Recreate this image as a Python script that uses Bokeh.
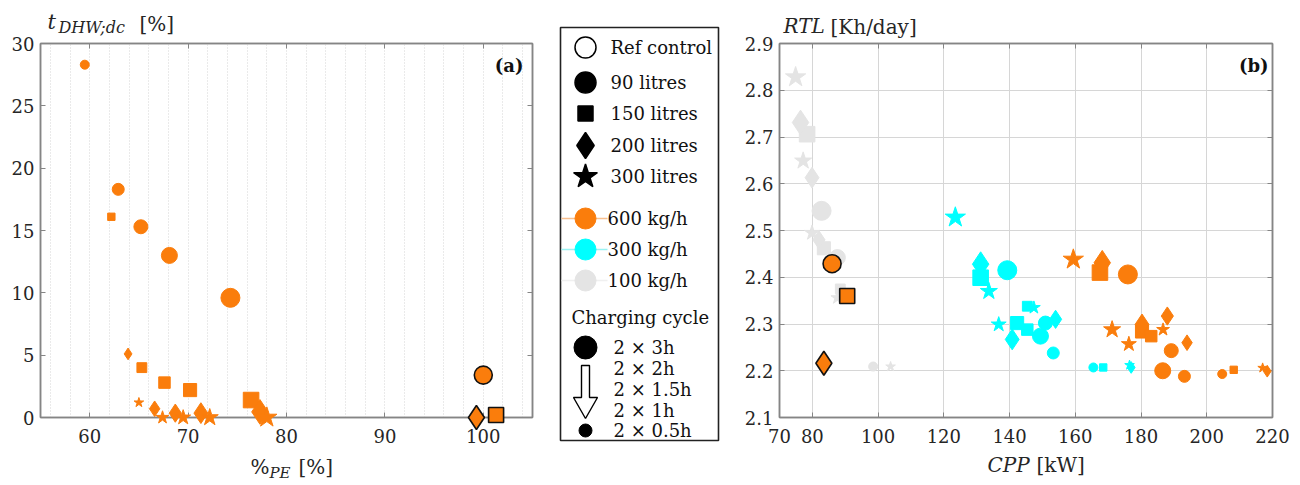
from bokeh.plotting import figure
from bokeh.layouts import row
from bokeh.models import (Range1d, FixedTicker, LinearAxis, Label, PrintfTickFormatter,
                          CustomJSTickFormatter, ColumnDataSource)
from bokeh.core.properties import value
from bokeh.embed import file_html
from bokeh.resources import INLINE

# ---------------- data: panel (a) ----------------
A600_PE = [59.5, 62.9, 65.2, 68.1, 74.3,
           62.2, 65.3, 67.6, 70.2, 76.4,
           63.9, 66.6, 68.7, 71.3, 77.3,
           65.0, 67.4, 69.5, 72.2, 78.0]
A600_TDHW = [28.3, 18.3, 15.3, 13.0, 9.6,
             16.1, 4.0, 2.8, 2.2, 1.4,
             5.1, 0.7, 0.35, 0.35, 0.45,
             1.2, 0.0, 0.0, 0.0, 0.0]
A600_VOL = [90, 90, 90, 90, 90, 150, 150, 150, 150, 150,
            200, 200, 200, 200, 200, 300, 300, 300, 300, 300]
A600_CYC = [0.5, 1, 1.5, 2, 3, 0.5, 1, 1.5, 2, 3,
            0.5, 1, 1.5, 2, 3, 0.5, 1, 1.5, 2, 3]
AREF_PE = [100.0, 99.3, 101.3]
AREF_TDHW = [3.4, 0.0, 0.2]
AREF_VOL = [90, 200, 150]

# ---------------- data: panel (b) ----------------
B600_CPP = [176.0, 186.6, 189.2, 193.2, 204.7,
            167.5, 180.3, 183.1, 208.2,
            168.2, 180.3, 188.0, 194.0, 218.4,
            159.4, 171.2, 176.3, 186.7, 217.0]
B600_RTL = [2.406, 2.200, 2.243, 2.188, 2.193,
            2.410, 2.284, 2.274, 2.202,
            2.431, 2.299, 2.317, 2.260, 2.199,
            2.438, 2.288, 2.257, 2.288, 2.206]
B600_VOL = [90, 90, 90, 90, 90, 150, 150, 150, 150,
            200, 200, 200, 200, 200, 300, 300, 300, 300, 300]
B600_CYC = [3, 2, 1.5, 1, 0.5, 3, 2, 1.5, 0.5,
            3, 2, 1.5, 1, 0.5, 3, 2, 1.5, 1, 0.5]

B300_CPP = [139.3, 149.4, 150.9, 153.3, 165.5,
            131.2, 142.3, 145.4, 145.4, 168.5,
            131.2, 140.8, 154.0, 177.0,
            123.5, 133.7, 136.7, 147.4, 176.5]
B300_RTL = [2.415, 2.274, 2.302, 2.238, 2.207,
            2.399, 2.302, 2.288, 2.338, 2.207,
            2.428, 2.267, 2.310, 2.207,
            2.528, 2.370, 2.299, 2.335, 2.212]
B300_VOL = [90, 90, 90, 90, 90, 150, 150, 150, 150, 150,
            200, 200, 200, 200, 300, 300, 300, 300, 300]
B300_CYC = [3, 2, 1.5, 1, 0.5, 3, 2, 1.5, 1, 0.5,
            3, 2, 1.5, 0.5, 3, 2, 1.5, 1, 0.5]

B100_CPP = [82.8, 87.6, 98.5, 78.4, 83.5, 88.5, 76.4, 79.9, 82.0,
            74.9, 77.2, 79.9, 87.6, 103.8]
B100_RTL = [2.542, 2.442, 2.209, 2.706, 2.462, 2.375, 2.731, 2.613, 2.480,
            2.828, 2.649, 2.495, 2.356, 2.209]
B100_VOL = [90, 90, 90, 150, 150, 150, 200, 200, 200, 300, 300, 300, 300, 300]
B100_CYC = [3, 2, 0.5, 3, 2, 1, 3, 2, 1.5, 3, 2, 1.5, 1, 0.5]

BREF_CPP = [86.0, 90.6, 83.5]
BREF_RTL = [2.429, 2.360, 2.216]
BREF_VOL = [90, 150, 200]

A_XTICKS = [60, 70, 80, 90, 100]
A_YTICKS = [0, 5, 10, 15, 20, 25, 30]
B_XTICKS = [70, 80, 100, 120, 140, 160, 180, 200, 220]
B_YTICKS = [2.1, 2.2, 2.3, 2.4, 2.5, 2.6, 2.7, 2.8, 2.9]

LEG_SHAPES = ["Ref control", "90 litres", "150 litres", "200 litres", "300 litres"]
LEG_FLOWS = ["600 kg/h", "300 kg/h", "100 kg/h"]
LEG_CYCLES = ["2 \u00d7 3h", "2 \u00d7 2h", "2 \u00d7 1.5h", "2 \u00d7 1h", "2 \u00d7 0.5h"]

# ---------------- styles ----------------
FONT = "DejaVu Serif"
TXT = "#262626"
AXC = "#858585"
ORANGE = "#FA7D0C"
CYAN = "#00FFFF"
GRAY = "#E4E4E4"
ORANGE_L = "#F9C08E"
CYAN_L = "#9AF3F3"
GRAY_L = "#F0F0F0"

MARKER = {90: "circle", 150: "square", 200: "diamond", 300: "star"}
SHAPE_SCALE = {90: 1.0, 150: 0.82, 200: 1.3, 300: 1.12}
CYCLE_SIZE = {3: 19, 2: 16, 1.5: 14, 1: 12, 0.5: 9}

H = 485
FT, FB = 43, 417          # frame top / bottom in page pixels (row aligns all frames)


def make_fig(width, xr, yr, bl, br, xt, yt, yfmt=None):
    p = figure(width=width, height=H, x_range=Range1d(*xr), y_range=Range1d(*yr),
               output_backend="svg", toolbar_location=None,
               min_border_left=bl, min_border_right=br,
               min_border_top=FT, min_border_bottom=H - FB)
    p.outline_line_color = AXC
    p.outline_line_width = 1.5
    p.xaxis.ticker = FixedTicker(ticks=xt)
    p.yaxis.ticker = FixedTicker(ticks=yt)
    if yfmt is not None:
        p.yaxis.formatter = yfmt
    for ax in p.axis:
        ax.axis_line_color = AXC
        ax.axis_line_width = 1.5
        ax.major_tick_line_color = AXC
        ax.major_tick_in = 5
        ax.major_tick_out = 0
        ax.minor_tick_line_color = None
        ax.major_label_text_font = FONT
        ax.major_label_text_font_size = "18px"
        ax.major_label_text_color = TXT
    p.xaxis.major_label_standoff = 11
    p.yaxis.major_label_standoff = 6
    blank = CustomJSTickFormatter(code="return ''")
    for loc, tk in (("right", yt), ("above", xt)):
        ax = LinearAxis(ticker=FixedTicker(ticks=tk), formatter=blank,
                        axis_line_color=AXC, axis_line_width=1.5,
                        major_tick_line_color=AXC, major_tick_in=5, major_tick_out=0,
                        minor_tick_line_color=None, major_label_standoff=0)
        p.add_layout(ax, loc)
    return p


def title_text(p, geo, px, py, text, size, style="normal"):
    """Unclipped axis-title text; px/py = left edge / vertical middle in page pixels."""
    (x0, x1), (y0, y1), fl, fr = geo
    x = x0 + (px - fl) / (fr - fl) * (x1 - x0)
    y = y0 + (FB - py) / (FB - FT) * (y1 - y0)
    p.text(x=[x], y=[y], text=[text], text_font=value(FONT), text_font_size=f"{size}px",
           text_font_style=style, text_color=TXT, text_align="left",
           text_baseline="middle", level="overlay")


def add_series(p, xs, ys, vols, cycs, color, edge=None, ref=False):
    if ref:
        sizes = [{90: 18, 150: 15, 200: 24}[v] for v in vols]
        order = list(range(len(xs)))
    else:
        sizes = [CYCLE_SIZE[c] * SHAPE_SCALE[v] for v, c in zip(vols, cycs)]
        order = sorted(range(len(xs)), key=lambda i: -CYCLE_SIZE[cycs[i]])
    src = ColumnDataSource(dict(x=[xs[i] for i in order], y=[ys[i] for i in order],
                                m=[MARKER[vols[i]] for i in order], s=[sizes[i] for i in order]))
    p.scatter(x="x", y="y", marker="m", size="s", source=src, fill_color=color,
              line_color=edge if edge else color, line_width=1.6 if edge else 1,
              level="overlay")


# ---------------- panel (a) ----------------
AW = 548
AXR, AYR = (55, 105), (0, 30)
AFL, AFR = 40, 532
pa = make_fig(AW, AXR, AYR, AFL, AW - AFR, A_XTICKS, A_YTICKS)
pa.ygrid.visible = False
pa.xgrid.ticker = FixedTicker(ticks=list(range(56, 105, 2)))
pa.xgrid.grid_line_color = "#D4D4D4"
pa.xgrid.grid_line_dash = "1 2"
pa.xgrid.grid_line_width = 1
add_series(pa, A600_PE, A600_TDHW, A600_VOL, A600_CYC, ORANGE)
add_series(pa, AREF_PE, AREF_TDHW, AREF_VOL, None, ORANGE, edge="#111111", ref=True)
pa.add_layout(Label(x=AFR - 9 - AFL, y=FB - 65, x_units="screen", y_units="screen",
                    text="(a)", text_font=FONT, text_font_size="18px", text_font_style="bold",
                    text_color="#111111", text_align="right", text_baseline="middle"))
ga = (AXR, AYR, AFL, AFR)
title_text(pa, ga, 47, 21, "t", 21, "italic")
title_text(pa, ga, 58, 27, "DHW;dc", 16, "italic")
title_text(pa, ga, 139, 23, "[%]", 20)
title_text(pa, ga, 250, 466, "%", 20)
title_text(pa, ga, 269, 472, "PE", 15, "italic")
title_text(pa, ga, 298, 466, "[%]", 20)

# ---------------- legend (data units = page pixels inside the aligned frame) ----------------
LX0, LX1 = 548, 740
pl = figure(width=LX1 - LX0, height=H, x_range=Range1d(LX0, LX1), y_range=Range1d(FB, FT),
            output_backend="svg", toolbar_location=None, min_border_left=0,
            min_border_right=0, min_border_top=FT, min_border_bottom=H - FB,
            x_axis_location=None, y_axis_location=None)
pl.grid.visible = False
pl.outline_line_color = None


def ltext(px, py, text):
    pl.text(x=[px], y=[py], text=[text], text_font=value(FONT), text_font_size="18px",
            text_color="#111111", text_align="left", text_baseline="middle", level="overlay")


pl.quad(left=[560], right=[718], top=[27], bottom=[440], fill_color="white",
        line_color="#222222", line_width=1.6, level="overlay")
MX = 585
shape_y = [47, 82, 113, 145, 176]
shape_m = ["circle", "circle", "square", "diamond", "star"]
shape_s = [21, 21, 15, 26, 25]
for i, lab in enumerate(LEG_SHAPES):
    pl.scatter([MX], [shape_y[i]], marker=shape_m[i], size=shape_s[i],
               fill_color="white" if i == 0 else "black", line_color="black", line_width=1.5,
               level="overlay")
    ltext(610, shape_y[i], lab)
flow_y = [218, 249, 280]
for lab, c, cl, yy in zip(LEG_FLOWS, [ORANGE, CYAN, GRAY], [ORANGE_L, CYAN_L, GRAY_L], flow_y):
    pl.line([561, 607], [yy, yy], line_color=cl, line_width=1.5, level="overlay")
    pl.scatter([MX], [yy], marker="circle", size=21, fill_color=c, line_color=c, level="overlay")
    ltext(607, yy, lab)
ltext(571, 317, "Charging cycle")
cyc_y = [347, 368, 389, 410, 430]
for lab, yy in zip(LEG_CYCLES, cyc_y):
    ltext(613, yy, lab)
pl.scatter([MX], [cyc_y[0]], marker="circle", size=23, fill_color="black", line_color="black",
           level="overlay")
pl.scatter([MX], [cyc_y[-1]], marker="circle", size=13, fill_color="black", line_color="black",
           level="overlay")
pl.patch([581, 589, 589, 597, 585, 573, 581, 581], [365, 365, 397, 397, 418, 397, 397, 365],
         fill_color="white", line_color="black", line_width=1.4, level="overlay")

# ---------------- panel (b) ----------------
BW = 1300 - LX1
BXR, BYR = (70, 220), (2.1, 2.9)
BFL, BFR = 779, 1272
pb = make_fig(BW, BXR, BYR, BFL - LX1, LX1 + BW - BFR, B_XTICKS, B_YTICKS,
              yfmt=PrintfTickFormatter(format="%.1f"))
for g in (pb.xgrid, pb.ygrid):
    g.grid_line_color = "#D6D6D6"
    g.grid_line_width = 1
pb.ygrid.ticker = FixedTicker(ticks=B_YTICKS)
pb.xgrid.ticker = FixedTicker(ticks=B_XTICKS)
add_series(pb, B100_CPP, B100_RTL, B100_VOL, B100_CYC, GRAY)
add_series(pb, B300_CPP, B300_RTL, B300_VOL, B300_CYC, CYAN)
add_series(pb, B600_CPP, B600_RTL, B600_VOL, B600_CYC, ORANGE)
add_series(pb, BREF_CPP, BREF_RTL, BREF_VOL, None, ORANGE, edge="#111111", ref=True)
pb.add_layout(Label(x=BFR - 4 - BFL, y=FB - 65, x_units="screen", y_units="screen",
                    text="(b)", text_font=FONT, text_font_size="18px", text_font_style="bold",
                    text_color="#111111", text_align="right", text_baseline="middle"))
gb = (BXR, BYR, BFL, BFR)
title_text(pb, gb, 783, 25, "RTL", 20, "italic")
title_text(pb, gb, 830, 26, "[Kh/day]", 20)
title_text(pb, gb, 987, 464, "CPP", 20, "italic")
title_text(pb, gb, 1036, 464, "[kW]", 20)

layout = row(pa, pl, pb, spacing=0)
open("out.html", "w").write(file_html(layout, INLINE))
